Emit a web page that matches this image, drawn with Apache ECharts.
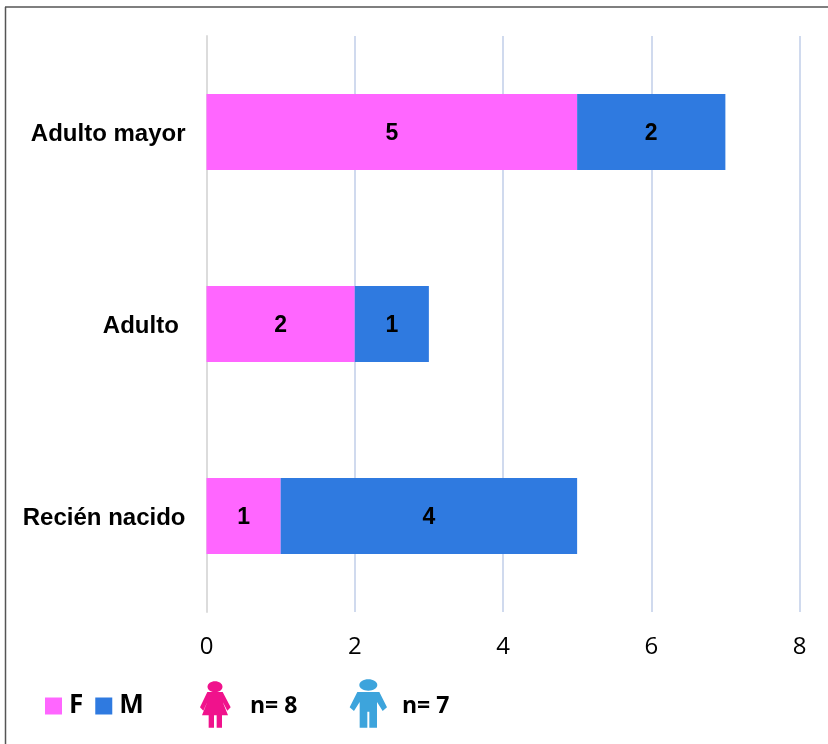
<!DOCTYPE html>
<html>
<head>
<meta charset="utf-8">
<style>html,body{margin:0;padding:0;background:#fff}#c{width:828px;height:744px}</style>
<script src="https://cdn.jsdelivr.net/npm/echarts@6/dist/echarts.min.js"></script>
</head>
<body>
<div id="c"></div>
<script>
const categories = ['Recién nacido', 'Adulto ', 'Adulto mayor'];
const femaleValues = [1, 2, 5];
const maleValues = [4, 1, 2];
const femaleCount = 'n= 8';
const maleCount = 'n= 7';

const chart = echarts.init(document.getElementById('c'), null, {renderer: 'canvas'});
const scale = (pts, ox, oy) => pts.map(p => [ox + p[0] / 3, oy + p[1] / 3]);
const femaleBody = [[622,216],[668,216],[692,262],[682,272],[668,245],[684,286],[666,286],[666,323],[650,323],[650,286],[642,286],[642,323],[626,323],[626,286],[606,286],[622,245],[610,272],[600,262]];
const maleBody = [[1072,216],[1138,216],[1161,262],[1148,273],[1131,246],[1131,323],[1108,323],[1108,275],[1102,275],[1102,323],[1079,323],[1079,246],[1062,273],[1049,262]];
const labelStyle = {show: true, position: 'inside', offset: [0, 2], color: '#000', fontFamily: 'Liberation Sans', fontWeight: 'bold', fontSize: 23};

chart.setOption({
  animation: false,
  backgroundColor: '#fff',
  grid: {left: 206.5, right: 28.5, top: 36, bottom: 132, containLabel: false},
  xAxis: {
    type: 'value', min: 0, max: 8, interval: 2,
    axisLine: {show: false}, axisTick: {show: false},
    axisLabel: {color: '#000', fontFamily: 'Open Sans', fontSize: 24, margin: 23},
    splitLine: {show: true, lineStyle: {color: '#d0daee', width: 2}}
  },
  yAxis: {
    type: 'category', data: categories,
    axisLine: {show: true, lineStyle: {color: '#dcdcdc', width: 2}},
    axisTick: {show: false},
    axisLabel: {
      margin: 21,
      formatter: v => '{a|' + v + '}',
      rich: {a: {color: '#000', fontFamily: 'Liberation Sans', fontWeight: 'bold', fontSize: 24, padding: [4, 0, 0, 0]}}
    }
  },
  legend: {
    left: 40, top: 688, icon: 'rect', itemWidth: 17, itemHeight: 17, itemGap: 12,
    selectedMode: false,
    textStyle: {color: '#000', fontFamily: 'Open Sans', fontWeight: 'bold', fontSize: 26, padding: [0, 0, 0, 2]},
    data: ['F', 'M']
  },
  series: [
    {name: 'F', type: 'bar', stack: 'a', barWidth: 76, data: femaleValues, itemStyle: {color: '#ff66ff'}, label: labelStyle},
    {name: 'M', type: 'bar', stack: 'a', barWidth: 76, data: maleValues, itemStyle: {color: '#2f7ae0'}, label: labelStyle}
  ],
  graphic: [
    {type: 'line', shape: {x1: 5.5, y1: 7, x2: 5.5, y2: 744}, style: {stroke: '#555', lineWidth: 1.5}},
    {type: 'line', shape: {x1: 5, y1: 7, x2: 828, y2: 7}, style: {stroke: '#555', lineWidth: 1.5}},
    {type: 'ellipse', shape: {cx: 215, cy: 686.7, rx: 7.5, ry: 5.5}, style: {fill: '#f0128c'}},
    {type: 'polygon', shape: {points: scale(femaleBody, 0, 620)}, style: {fill: '#f0128c'}},
    {type: 'ellipse', shape: {cx: 368.3, cy: 685, rx: 9, ry: 5.7}, style: {fill: '#3da4dc'}},
    {type: 'polygon', shape: {points: scale(maleBody, 0, 620)}, style: {fill: '#3da4dc'}},
    {type: 'text', x: 250, y: 706, style: {text: femaleCount, fill: '#000', font: 'bold 23px "Open Sans"', textVerticalAlign: 'middle'}},
    {type: 'text', x: 402, y: 706, style: {text: maleCount, fill: '#000', font: 'bold 23px "Open Sans"', textVerticalAlign: 'middle'}}
  ]
});
</script>
</body>
</html>
